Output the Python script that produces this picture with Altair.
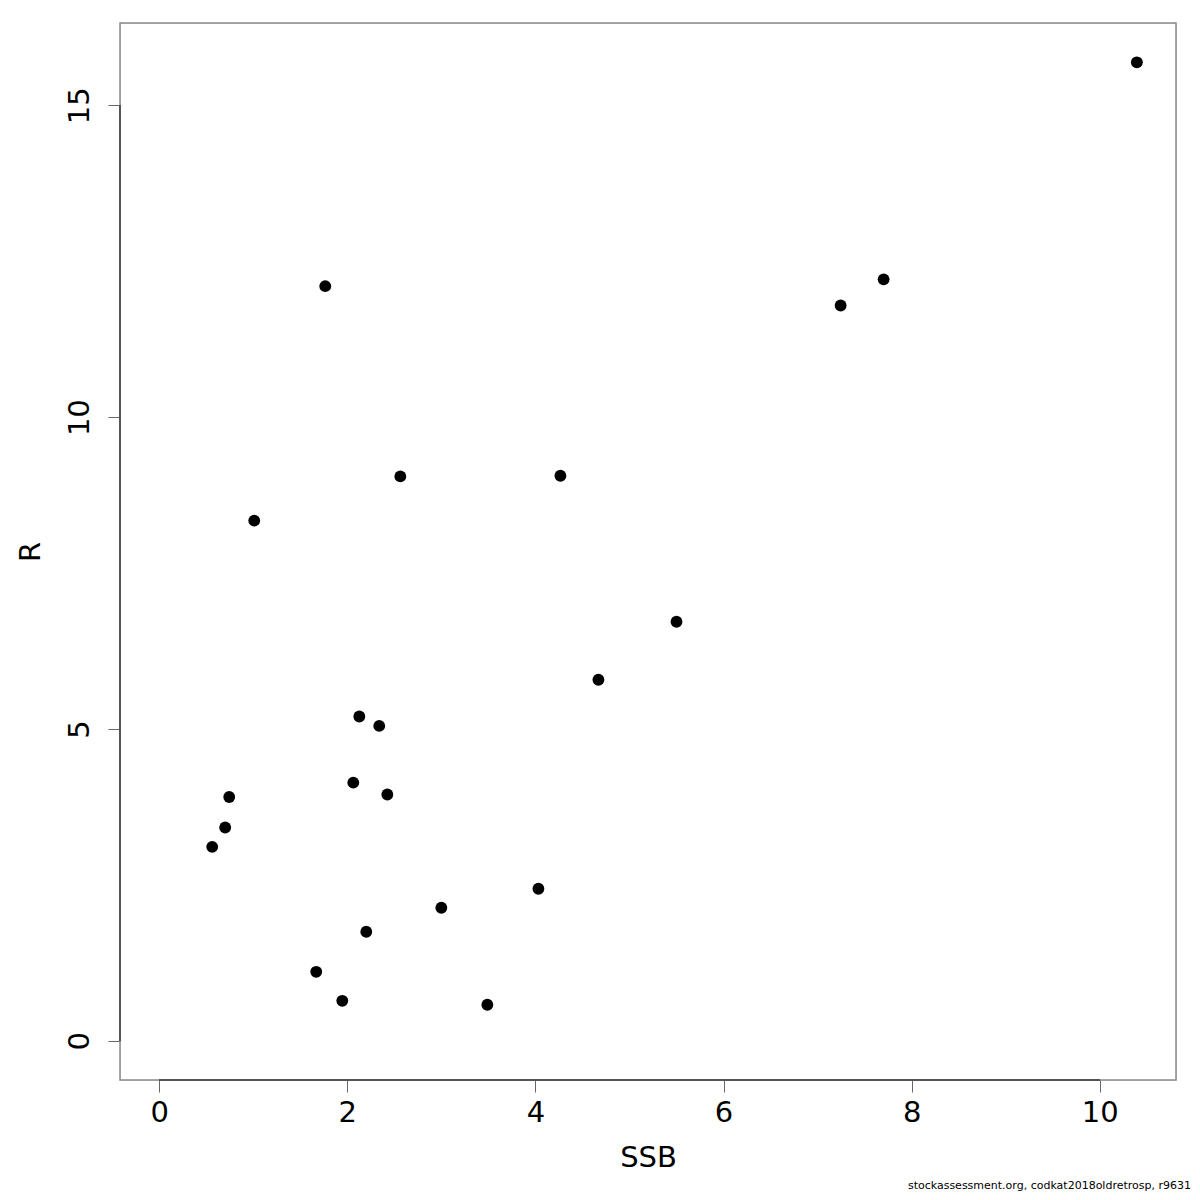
import altair as alt
import pandas as pd

ssb = [0.564, 0.702, 0.745, 1.011, 1.766, 1.670, 1.947, 2.064, 2.128, 2.202, 2.340,
       2.426, 2.564, 3.000, 3.489, 4.032, 4.266, 4.670, 5.500, 7.245, 7.702, 10.394]
rec = [3.11, 3.42, 3.91, 8.34, 12.10, 1.107, 0.642, 4.14, 5.20, 1.749, 5.05,
       3.95, 9.05, 2.134, 0.578, 2.439, 9.06, 5.79, 6.72, 11.79, 12.21, 15.69]
x_ticks = [0, 2, 4, 6, 8, 10]
y_ticks = [0, 5, 10, 15]
footer = "stockassessment.org, codkat2018oldretrosp, r9631"

df = pd.DataFrame({"SSB": ssb, "R": rec})
FONT = "DejaVu Sans"
W, H = 1056, 1057

xs = alt.Scale(domain=[-0.416, 10.81], nice=False, zero=False)
ys = alt.Scale(domain=[-0.628, 16.32], nice=False, zero=False)

xaxis = alt.Axis(values=x_ticks, format="d", domain=False, grid=False,
                 tickColor="#666666", tickSize=12, tickWidth=1, labelFontSize=29,
                 labelFont=FONT, labelColor="black", labelPadding=6,
                 titleFontSize=29, titleFont=FONT, titleFontWeight="normal",
                 titleColor="black", titlePadding=16)
yaxis = alt.Axis(values=y_ticks, format="d", domain=False, grid=False,
                 tickColor="#666666", tickSize=12, tickWidth=1, labelFontSize=29,
                 labelFont=FONT, labelColor="black", labelAngle=-90,
                 labelAlign="center", labelBaseline="bottom", labelPadding=14,
                 titleFontSize=29, titleFont=FONT, titleFontWeight="normal",
                 titleColor="black", titlePadding=20)

box = alt.Chart(pd.DataFrame({"b": [0]})).mark_rect(
    fill=None, stroke="#8a8a8a", strokeWidth=1.5
).encode(x=alt.value(0), x2=alt.value(W), y=alt.value(0), y2=alt.value(H))

points = alt.Chart(df).mark_circle(size=140, color="black", opacity=1).encode(
    x=alt.X("SSB:Q", scale=xs, axis=xaxis, title="SSB"),
    y=alt.Y("R:Q", scale=ys, axis=yaxis, title="R"),
)

xline = alt.Chart(df).mark_rule(color="#555555", strokeWidth=1.3).encode(
    x=alt.datum(0, scale=xs), x2=alt.datum(10), y=alt.value(H)
)
yline = alt.Chart(df).mark_rule(color="#555555", strokeWidth=1.3).encode(
    y=alt.datum(0, scale=ys), y2=alt.datum(15), x=alt.value(0)
)

foot = alt.Chart(pd.DataFrame({"t": [footer]})).mark_text(
    align="right", baseline="bottom", fontSize=11, font=FONT, color="black"
).encode(text="t:N", x=alt.value(1071), y=alt.value(1168))

chart = alt.layer(box, points, xline, yline, foot).properties(
    width=W, height=H,
    autosize=alt.AutoSizeParams(type="none"),
    padding={"left": 112, "top": 15, "right": 16, "bottom": 112},
).configure_view(strokeWidth=0).configure(background="white")

chart.save("out.html", embed_options={"renderer": "svg", "actions": False})
